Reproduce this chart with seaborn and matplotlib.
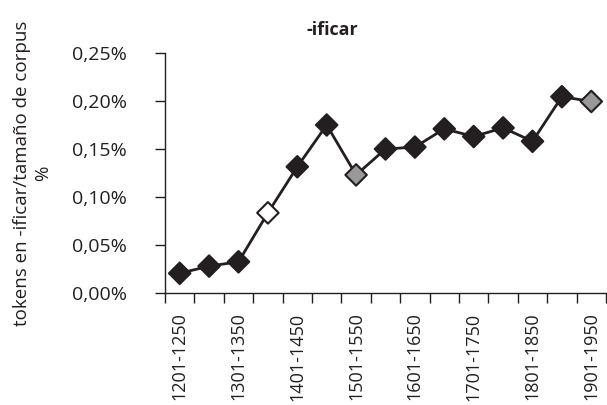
import numpy as np
import pandas as pd
import seaborn as sns
import matplotlib
matplotlib.use("Agg")
import matplotlib.pyplot as plt
from matplotlib.ticker import FixedLocator, FuncFormatter

periods = ["1201-1250", "1251-1300", "1301-1350", "1351-1400", "1401-1450",
           "1451-1500", "1501-1550", "1551-1600", "1601-1650", "1651-1700",
           "1701-1750", "1751-1800", "1801-1850", "1851-1900", "1901-1950"]
values = [0.0205, 0.028, 0.0325, 0.0835, 0.1315, 0.175, 0.123, 0.150, 0.152,
          0.171, 0.163, 0.172, 0.158, 0.2045, 0.1995]
kind = ["full", "full", "full", "open", "full", "full", "grey", "full", "full",
        "full", "full", "full", "full", "full", "grey"]

df = pd.DataFrame({"period": periods, "value": values, "kind": kind})

sns.set_style("ticks")
plt.rcParams["font.family"] = ["Open Sans", "DejaVu Sans"]

fig = plt.figure(figsize=(6.07, 4.05), dpi=100)
ax = fig.add_axes([165 / 607, 1 - 293 / 405, 441 / 607, 240 / 405])

sns.lineplot(data=df, x="period", y="value", color="#231f20", linewidth=2, ax=ax, zorder=2)
sns.scatterplot(data=df, x="period", y="value", hue="kind", style="kind",
                palette={"full": "#231f20", "open": "white", "grey": "#999999"},
                markers={"full": "D", "open": "D", "grey": "D"},
                s=120, edgecolor="#231f20", linewidth=1.5, legend=False, ax=ax, zorder=3)

ax.set_xlim(-0.5, len(periods) - 0.5)
ax.set_ylim(0, 0.25)
ax.set_yticks([0, 0.05, 0.10, 0.15, 0.20, 0.25])
ax.yaxis.set_major_formatter(FuncFormatter(lambda v, p: f"{v:.2f}%".replace(".", ",")))

ax.xaxis.set_major_locator(FixedLocator(np.arange(-0.5, len(periods))))
ax.xaxis.set_minor_locator(FixedLocator(np.arange(0, len(periods), 2)))
ax.set_xticklabels([], minor=False)
ax.set_xticklabels(periods[::2], minor=True, rotation=90)
ax.tick_params(axis="x", which="major", length=7.5, width=1, color="#231f20")
ax.tick_params(axis="x", which="minor", length=0, pad=14, labelsize=13, labelcolor="#231f20")
ax.tick_params(axis="y", length=7.5, width=1, color="#231f20", labelsize=14, labelcolor="#231f20", pad=20)

sns.despine(ax=ax)
for s in ["left", "bottom"]:
    ax.spines[s].set_color("#231f20")
    ax.spines[s].set_linewidth(1)

ax.set_xlabel("")
ax.set_ylabel("tokens en -ificar/tamaño de corpus\n%", fontsize=13.5, color="#231f20",
              linespacing=1.25)
ax.yaxis.set_label_coords(-0.255, 0.5)
fig.text(332 / 607, 1 - 30 / 405, "-ificar", ha="center", va="center",
         fontsize=13, fontweight="bold", color="#231f20")

fig.savefig("out.png", dpi=100)
